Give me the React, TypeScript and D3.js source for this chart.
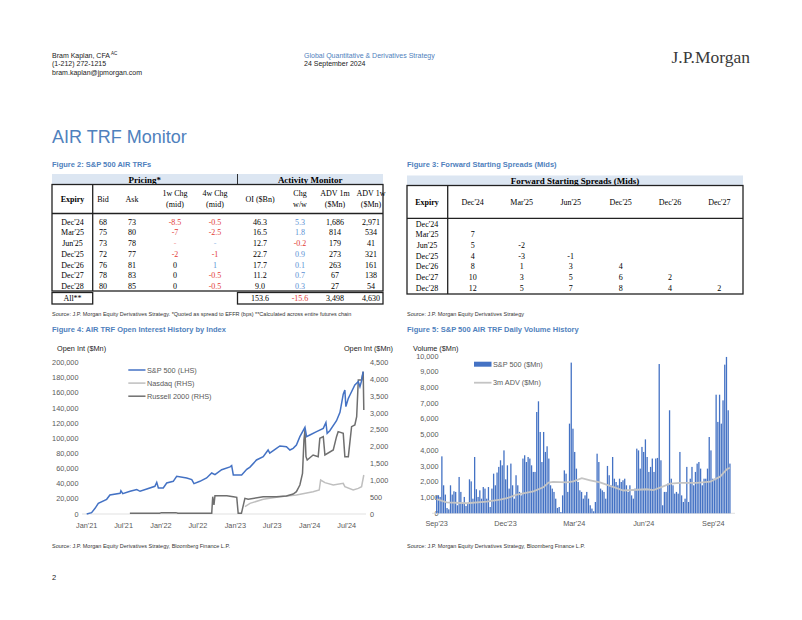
import React from "react";
import * as d3 from "d3";

const SANS = "'Liberation Sans', Arial, sans-serif";
const SERIF = "'Liberation Serif', 'Times New Roman', serif";
const TITLE_BLUE = "#4f81bd";
const RED = "#e23b35";
const POS_BLUE = "#5b8fd4";
const BAR_BLUE = "#4472c4";
const AXIS_GREY = "#595959";

// ---------- Table 1: S&P 500 AIR TRFs ----------
const EXPIRY = ["Dec'24", "Mar'25", "Jun'25", "Dec'25", "Dec'26", "Dec'27", "Dec'28"];
const BID = ["68", "75", "73", "72", "76", "78", "80"];
const ASK = ["73", "80", "78", "77", "81", "83", "85"];
const CHG_1W = ["-8.5", "-7", "-", "-2", "0", "0", "0"];
const CHG_4W = ["-0.5", "-2.5", "-", "-1", "1", "-0.5", "-0.5"];
const OI_BN = ["46.3", "16.5", "12.7", "22.7", "17.7", "11.2", "9.0"];
const CHG_WW = ["5.3", "1.8", "-0.2", "0.9", "0.1", "0.7", "0.3"];
const ADV_1M = ["1,686", "814", "179", "273", "263", "67", "27"];
const ADV_1W = ["2,971", "534", "41", "321", "161", "138", "54"];
const ALL_ROW = ["153.6", "-15.6", "3,498", "4,630"];

// ---------- Table 2: Forward starting spreads ----------
const FWD_COLS = ["Dec'24", "Mar'25", "Jun'25", "Dec'25", "Dec'26", "Dec'27"];
const FWD_VALUES: number[][] = [
  [],
  [7],
  [5, -2],
  [4, -3, -1],
  [8, 1, 3, 4],
  [10, 3, 5, 6, 2],
  [12, 5, 7, 8, 4, 2],
];

// ---------- Figure 4: Open interest ----------
const SPX_OI: [string, number][] = [
  ["2021-01-01", 0], ["2021-01-25", 1800], ["2021-02-11", 7500], ["2021-02-27", 14000],
  ["2021-04-09", 19400], ["2021-04-25", 25100], ["2021-06-14", 27300], ["2021-06-18", 30800],
  ["2021-06-27", 26900], ["2021-08-02", 30000], ["2021-09-04", 32200], ["2021-09-20", 30000],
  ["2021-10-23", 33000], ["2021-12-02", 36600], ["2021-12-11", 41900], ["2021-12-19", 34400],
  ["2022-01-12", 34400], ["2022-01-29", 41000], ["2022-03-02", 43200], ["2022-03-19", 49800],
  ["2022-05-07", 47600], ["2022-06-01", 45400], ["2022-06-12", 40100], ["2022-07-11", 43200],
  ["2022-08-13", 47600], ["2022-09-07", 54200], ["2022-09-23", 52000], ["2022-10-26", 58600],
  ["2022-12-06", 62200], ["2022-12-14", 63900], ["2022-12-22", 51600], ["2023-02-01", 51600],
  ["2023-02-26", 59000], ["2023-03-14", 62000], ["2023-04-15", 71400], ["2023-05-18", 75700],
  ["2023-06-11", 84600], ["2023-06-19", 80400], ["2023-07-22", 86800], ["2023-08-08", 89900],
  ["2023-09-09", 89000], ["2023-09-26", 84600], ["2023-10-12", 86800], ["2023-10-28", 91200],
  ["2023-11-14", 102200], ["2023-12-09", 114600], ["2023-12-17", 102200], ["2024-01-02", 104400],
  ["2024-02-04", 108800], ["2024-03-08", 113200], ["2024-03-21", 121000], ["2024-03-27", 106600],
  ["2024-04-09", 110000], ["2024-05-12", 123300], ["2024-05-29", 134300], ["2024-06-14", 158400],
  ["2024-06-22", 163900], ["2024-06-27", 141900], ["2024-07-09", 152900], ["2024-07-17", 157300],
  ["2024-08-10", 170500], ["2024-08-27", 174900], ["2024-09-04", 168300], ["2024-09-12", 176000],
  ["2024-09-20", 188100],
];
const NDX_OI: [string, number][] = [
  ["2023-02-17", 218], ["2023-03-14", 317], ["2023-05-18", 436], ["2023-08-08", 515],
  ["2023-10-28", 565], ["2024-01-18", 664], ["2024-02-17", 714], ["2024-02-24", 1011],
  ["2024-03-16", 932], ["2024-04-26", 862], ["2024-06-14", 912], ["2024-06-22", 813],
  ["2024-08-02", 714], ["2024-08-27", 763], ["2024-09-12", 813], ["2024-09-23", 1160],
];
const RTY_OI: [string, number][] = [
  ["2021-08-01", 20], ["2021-12-25", 20], ["2022-01-04", 40], ["2022-03-15", 40],
  ["2022-03-25", 20], ["2022-09-07", 20], ["2022-09-12", 515], ["2022-09-18", 268],
  ["2022-09-23", 545], ["2022-11-20", 545], ["2022-12-22", 515], ["2023-01-08", 496],
  ["2023-01-15", 20], ["2023-01-31", 20], ["2023-02-17", 466], ["2023-03-05", 436],
  ["2023-05-18", 515], ["2023-07-22", 515], ["2023-09-09", 535], ["2023-10-12", 595],
  ["2023-10-28", 664], ["2023-11-14", 862], ["2023-11-27", 1210], ["2023-12-04", 2200],
  ["2023-12-09", 2498], ["2023-12-14", 1705], ["2023-12-20", 1606], ["2024-01-18", 1755],
  ["2024-02-12", 1705], ["2024-02-20", 2250], ["2024-03-08", 2300], ["2024-03-16", 1755],
  ["2024-04-26", 1904], ["2024-05-12", 2300], ["2024-05-20", 2449], ["2024-06-14", 2399],
  ["2024-06-22", 1705], ["2024-07-09", 1705], ["2024-07-25", 2597], ["2024-08-10", 2647],
  ["2024-08-19", 2894], ["2024-08-27", 3985], ["2024-09-12", 3985], ["2024-09-20", 4233],
  ["2024-09-23", 3093],
];
const OI_LEGEND = ["S&P 500 (LHS)", "Nasdaq (RHS)", "Russell 2000 (RHS)"];

// ---------- Figure 5: daily volume ----------
const VOL_START = "2023-09-01";
const VOL_END = "2024-09-23";
const DAILY_VOL = [
  1100, 1150, 1040, 3620, 1780, 1190, 340, 250, 1780, 1190, 1400, 1360, 510, 2310, 1360, 610,
  1040, 470, 610, 2160, 2030, 930, 3580, 1530, 1040, 1460, 930, 1670, 1570, 930, 1670, 400,
  1570, 2520, 1780, 2590, 2950, 3370, 3050, 4000, 2160, 3050, 1570, 3160, 1780, 930, 2420, 1780,
  1360, 1140, 3480, 3690, 3260, 3580, 3480, 3050, 2630, 2630, 6440, 7120, 5170, 3260, 5170, 3900,
  4260, 3480, 1780, 1570, 1360, 930, 340, 400, 80, 1140, 2730, 2520, 1360, 5700, 9580, 5380,
  3900, 2840, 1990, 1460, 1360, 930, 1140, 1360, 930, 510, 300, 130, 720, 3790, 3260, 1570,
  1460, 1360, 930, 3010, 2420, 1780, 3580, 2200, 1990, 1780, 2200, 1990, 2100, 2200, 1780, 1360,
  1780, 1140, 930, 1570, 4110, 4000, 2840, 4220, 3900, 4700, 3580, 2630, 2950, 3480, 2630, 3480,
  3520, 9490, 3370, 510, 1360, 1360, 1890, 6550, 2200, 1780, 1250, 1360, 1250, 3900, 1140, 720,
  930, 2950, 720, 2200, 2950, 1780, 2630, 3160, 3260, 2840, 1780, 2200, 2200, 2840, 4850, 4000,
  2200, 2200, 7540, 5810, 7540, 5700, 7180, 9450, 9940, 6550, 3160,
];
const ADV_3M: [string, number][] = [
  ["2023-09-01", 900], ["2023-09-14", 700], ["2023-10-11", 640], ["2023-11-06", 740],
  ["2023-11-24", 870], ["2023-12-03", 960], ["2023-12-16", 1180], ["2024-01-07", 1400],
  ["2024-01-20", 1650], ["2024-01-27", 1950], ["2024-02-02", 2000], ["2024-02-20", 1960],
  ["2024-02-29", 2030], ["2024-03-11", 2230], ["2024-03-22", 2100], ["2024-04-04", 1960],
  ["2024-04-26", 1600], ["2024-05-05", 1450], ["2024-06-05", 1530], ["2024-06-14", 1480],
  ["2024-07-06", 1880], ["2024-07-19", 1940], ["2024-08-10", 1940], ["2024-08-28", 2010],
  ["2024-09-10", 2330], ["2024-09-19", 2800], ["2024-09-23", 2900],
];
const VOL_LEGEND = ["S&P 500 ($Mn)", "3m ADV ($Mn)"];

const parse = d3.timeParse("%Y-%m-%d");
const fmtMonth = d3.timeFormat("%b'%y");
const fmtComma = d3.format(",");

function colorPricing(s: string, first: boolean) {
  if (s === "-") return first ? "#f2a0a0" : "#9cc0e8";
  const v = parseFloat(s);
  if (v < 0) return RED;
  if (v > 0) return POS_BLUE;
  return "#000";
}
function colorChg(s: string) {
  const v = parseFloat(s);
  if (v < 0) return RED;
  if (v > 0) return POS_BLUE;
  return "#000";
}

function T(props: any) {
  const { children, ...rest } = props;
  return (
    <text dominantBaseline="central" {...rest}>
      {children}
    </text>
  );
}

function Table1() {
  const L = 52, R = 383, divX = 237.5, expX = 92.7;
  const bandTop = 174, boxTop = 184.5, headLine = 213.5, boxBot = 291;
  const colX = { exp: 72.5, bid: 103, ask: 132, w1: 175, w4: 215, oi: 260, ww: 300, a1m: 335, a1w: 371 };
  const rowY = (i: number) => 222 + i * 10.75;
  return (
    <g fontFamily={SERIF} fontSize={8} fill="#000">
      <rect x={L} y={bandTop} width={R - L} height={boxTop - bandTop} fill="#dce6f2" />
      <line x1={divX} x2={divX} y1={bandTop} y2={boxTop} stroke="#000" strokeWidth={0.8} />
      <T x={(L + divX) / 2} y={179.5} textAnchor="middle" fontWeight="bold" fontSize={9}>Pricing*</T>
      <T x={(divX + R) / 2} y={179.5} textAnchor="middle" fontWeight="bold" fontSize={9}>Activity Monitor</T>
      <rect x={L} y={boxTop} width={R - L} height={boxBot - boxTop} fill="none" stroke="#222" strokeWidth={1.3} />
      <line x1={L} x2={R} y1={headLine} y2={headLine} stroke="#222" strokeWidth={1.3} />
      <line x1={expX} x2={expX} y1={boxTop} y2={boxBot} stroke="#222" strokeWidth={1.3} />
      <T x={colX.exp} y={199} textAnchor="middle" fontWeight="bold" fill="#000">Expiry</T>
      <T x={colX.bid} y={199} textAnchor="middle" fill="#000">Bid</T>
      <T x={colX.ask} y={199} textAnchor="middle" fill="#000">Ask</T>
      {[
        [colX.w1, "1w Chg", "(mid)"],
        [colX.w4, "4w Chg", "(mid)"],
        [colX.ww, "Chg", "w/w"],
        [colX.a1m, "ADV 1m", "($Mn)"],
        [colX.a1w, "ADV 1w", "($Mn)"],
      ].map(([x, a, b]: any) => (
        <g key={a}>
          <T x={x} y={193.5} textAnchor="middle" fill="#000">{a}</T>
          <T x={x} y={204.5} textAnchor="middle" fill="#000">{b}</T>
        </g>
      ))}
      <T x={colX.oi} y={199} textAnchor="middle" fill="#000">OI ($Bn)</T>
      {EXPIRY.map((e, i) => (
        <g key={e} textAnchor="middle">
          <T x={colX.exp} y={rowY(i)} fill="#000">{e}</T>
          <T x={colX.bid} y={rowY(i)} fill="#000">{BID[i]}</T>
          <T x={colX.ask} y={rowY(i)} fill="#000">{ASK[i]}</T>
          <T x={colX.w1} y={rowY(i)} fill={colorPricing(CHG_1W[i], true)}>{CHG_1W[i]}</T>
          <T x={colX.w4} y={rowY(i)} fill={colorPricing(CHG_4W[i], false)}>{CHG_4W[i]}</T>
          <T x={colX.oi} y={rowY(i)} fill="#000">{OI_BN[i]}</T>
          <T x={colX.ww} y={rowY(i)} fill={colorChg(CHG_WW[i])}>{CHG_WW[i]}</T>
          <T x={colX.a1m} y={rowY(i)} fill="#000">{ADV_1M[i]}</T>
          <T x={colX.a1w} y={rowY(i)} fill="#000">{ADV_1W[i]}</T>
        </g>
      ))}
      <rect x={L} y={292.5} width={expX - L} height={11.5} fill="none" stroke="#222" strokeWidth={1.3} />
      <rect x={divX} y={292.5} width={R - divX} height={11.5} fill="none" stroke="#222" strokeWidth={1.3} />
      <T x={colX.exp} y={298.5} textAnchor="middle" fill="#000">All**</T>
      {[colX.oi, colX.ww, colX.a1m, colX.a1w].map((x, k) => (
        <T key={k} x={x} y={298.5} textAnchor="middle" fill={k === 1 ? colorChg(ALL_ROW[k]) : "#000"}>
          {ALL_ROW[k]}
        </T>
      ))}
    </g>
  );
}

function Table2() {
  const L = 407, R = 743, expX = 447.7;
  const bandTop = 175.5, boxTop = 185.5, headLine = 218.3, boxBot = 294;
  const colCenters = [472.7, 521.7, 570.7, 620.7, 670, 719.3];
  const rowY = (i: number) => 224.3 + i * 10.67;
  return (
    <g fontFamily={SERIF} fontSize={8} fill="#000">
      <rect x={L} y={bandTop} width={R - L} height={boxTop - bandTop} fill="#dce6f2" />
      <T x={(L + R) / 2} y={180.7} textAnchor="middle" fontWeight="bold" fontSize={9}>Forward Starting Spreads (Mids)</T>
      <rect x={L} y={boxTop} width={R - L} height={boxBot - boxTop} fill="none" stroke="#222" strokeWidth={1.3} />
      <line x1={L} x2={R} y1={headLine} y2={headLine} stroke="#222" strokeWidth={1.3} />
      <line x1={expX} x2={expX} y1={boxTop} y2={boxBot} stroke="#222" strokeWidth={1.3} />
      <T x={427} y={202} textAnchor="middle" fontWeight="bold">Expiry</T>
      {FWD_COLS.map((c, j) => (
        <T key={c} x={colCenters[j]} y={202} textAnchor="middle">{c}</T>
      ))}
      {EXPIRY.map((e, i) => (
        <g key={e} textAnchor="middle">
          <T x={427} y={rowY(i)}>{e}</T>
          {FWD_VALUES[i].map((v, j) => (
            <T key={j} x={colCenters[j]} y={rowY(i)}>{v}</T>
          ))}
        </g>
      ))}
    </g>
  );
}

function Figure4() {
  const x = d3.scaleTime().domain([new Date(2021, 0, 1), new Date(2024, 6, 1)]).range([86.7, 346.7]);
  const yL = d3.scaleLinear().domain([0, 200000]).range([514, 362.7]);
  const yR = d3.scaleLinear().domain([0, 4500]).range([514, 362.7]);
  const lineL = d3.line<[string, number]>().x((d) => x(parse(d[0])!)).y((d) => yL(d[1]));
  const lineR = d3.line<[string, number]>().x((d) => x(parse(d[0])!)).y((d) => yR(d[1]));
  const leftTicks = d3.range(0, 200001, 20000);
  const rightTicks = d3.range(0, 4501, 500);
  const xTicks = d3.timeMonth.range(new Date(2021, 0, 1), new Date(2024, 7, 1), 6);
  const legendColors = [BAR_BLUE, "#bfbfbf", "#6f6f6f"];
  return (
    <g fontFamily={SANS}>
      <T x={57} y={348.5} fontSize={7.3} fill="#222">Open Int ($Mn)</T>
      <T x={393} y={348.5} fontSize={7.3} fill="#222" textAnchor="end">Open Int ($Mn)</T>
      {leftTicks.map((t) => (
        <T key={t} x={78.5} y={yL(t)} fontSize={7.3} fill={AXIS_GREY} textAnchor="end">{fmtComma(t)}</T>
      ))}
      {rightTicks.map((t) => (
        <T key={t} x={370} y={yR(t)} fontSize={7.3} fill={AXIS_GREY}>{fmtComma(t)}</T>
      ))}
      {xTicks.map((d) => (
        <T key={+d} x={x(d)} y={525} fontSize={7.3} fill={AXIS_GREY} textAnchor="middle">{fmtMonth(d)}</T>
      ))}
      <line x1={82} x2={366} y1={514} y2={514} stroke="#d9d9d9" strokeWidth={0.8} />
      <path d={lineR(NDX_OI)!} fill="none" stroke="#bfbfbf" strokeWidth={1.5} />
      <path d={lineR(RTY_OI)!} fill="none" stroke="#6f6f6f" strokeWidth={1.5} />
      <path d={lineL(SPX_OI)!} fill="none" stroke={BAR_BLUE} strokeWidth={1.5} />
      {OI_LEGEND.map((s, i) => (
        <g key={s}>
          <line x1={128.3} x2={145.5} y1={370 + i * 13.1} y2={370 + i * 13.1} stroke={legendColors[i]} strokeWidth={1.5} />
          <T x={147} y={370 + i * 13.1} fontSize={7.3} fill={AXIS_GREY}>{s}</T>
        </g>
      ))}
    </g>
  );
}

function Figure5() {
  const xT = d3.scaleTime().domain([new Date(2023, 8, 1), new Date(2024, 8, 1)]).range([436.7, 713.3]);
  const y = d3.scaleLinear().domain([0, 10000]).range([513.3, 356]);
  const xi = d3
    .scaleLinear()
    .domain([0, DAILY_VOL.length - 1])
    .range([xT(parse(VOL_START)!), xT(parse(VOL_END)!)]);
  const adv = d3.line<[string, number]>().x((d) => xT(parse(d[0])!)).y((d) => y(d[1]));
  const yTicks = d3.range(0, 10001, 1000);
  const xTicks = d3.timeMonth.range(new Date(2023, 8, 1), new Date(2024, 9, 1), 3);
  const bw = 1.3;
  return (
    <g fontFamily={SANS}>
      <T x={413} y={348.5} fontSize={7.3} fill="#222">Volume ($Mn)</T>
      {yTicks.map((t) => (
        <T key={t} x={438.5} y={y(t)} fontSize={7.3} fill={AXIS_GREY} textAnchor="end">{fmtComma(t)}</T>
      ))}
      {xTicks.map((d) => (
        <T key={+d} x={xT(d)} y={523.5} fontSize={7.3} fill={AXIS_GREY} textAnchor="middle">{fmtMonth(d)}</T>
      ))}
      <line x1={432} x2={735} y1={513.3} y2={513.3} stroke="#d9d9d9" strokeWidth={0.8} />
      {DAILY_VOL.map((v, i) => (
        <rect key={i} x={xi(i) - bw / 2} y={y(v)} width={bw} height={y(0) - y(v)} fill={BAR_BLUE} />
      ))}
      <path d={adv(ADV_3M)!} fill="none" stroke="#c4c4c4" strokeWidth={1.8} />
      <rect x={474} y={361.7} width={17.5} height={5} fill={BAR_BLUE} />
      <T x={493} y={364.2} fontSize={7.3} fill={AXIS_GREY}>{VOL_LEGEND[0]}</T>
      <line x1={474} x2={491.5} y1={382.7} y2={382.7} stroke="#c4c4c4" strokeWidth={1.8} />
      <T x={493} y={382.7} fontSize={7.3} fill={AXIS_GREY}>{VOL_LEGEND[1]}</T>
    </g>
  );
}

export default function App() {
  return (
    <svg
      width={802}
      height={620}
      viewBox="0 0 802 620"
      style={{ position: "absolute", left: 0, top: 0, background: "#fff" }}
    >
      <rect x={0} y={0} width={802} height={620} fill="#fff" />
      <g fontFamily={SANS} fontSize={7} fill="#222">
        <T x={52} y={55}>
          Bram Kaplan, CFA
          <tspan fontSize={4.5} dy={-2.5}> AC</tspan>
        </T>
        <T x={52} y={63.5}>(1-212) 272-1215</T>
        <T x={52} y={72}>bram.kaplan@jpmorgan.com</T>
        <T x={304} y={55} fill={TITLE_BLUE}>Global Quantitative &amp; Derivatives Strategy</T>
        <T x={304} y={63.5}>24 September 2024</T>
      </g>
      <T x={750} y={57} fontFamily={SERIF} fontSize={17.5} fill="#3a3a3a" textAnchor="end">J.P.Morgan</T>
      <T x={52} y={137} fontFamily={SANS} fontSize={18} fill={TITLE_BLUE}>AIR TRF Monitor</T>
      <g fontFamily={SANS} fontSize={7.5} fontWeight="bold" fill={TITLE_BLUE}>
        <T x={52} y={164}>Figure 2: S&amp;P 500 AIR TRFs</T>
        <T x={407} y={164.5}>Figure 3: Forward Starting Spreads (Mids)</T>
        <T x={52} y={329.5}>Figure 4: AIR TRF Open Interest History by Index</T>
        <T x={407} y={329.5}>Figure 5: S&amp;P 500 AIR TRF Daily Volume History</T>
      </g>
      <Table1 />
      <Table2 />
      <g fontFamily={SANS} fontSize={5.5} fill="#333">
        <T x={52} y={314}>
          Source: J.P. Morgan Equity Derivatives Strategy. *Quoted as spread to EFFR (bps) **Calculated across entire futures chain
        </T>
        <T x={407} y={314}>Source: J.P. Morgan Equity Derivatives Strategy</T>
        <T x={52} y={545.5}>Source: J.P. Morgan Equity Derivatives Strategy, Bloomberg Finance L.P.</T>
        <T x={407} y={545.5}>Source: J.P. Morgan Equity Derivatives Strategy, Bloomberg Finance L.P.</T>
      </g>
      <T x={52} y={577} fontFamily={SANS} fontSize={7.5} fill="#222">2</T>
      <Figure4 />
      <Figure5 />
    </svg>
  );
}
